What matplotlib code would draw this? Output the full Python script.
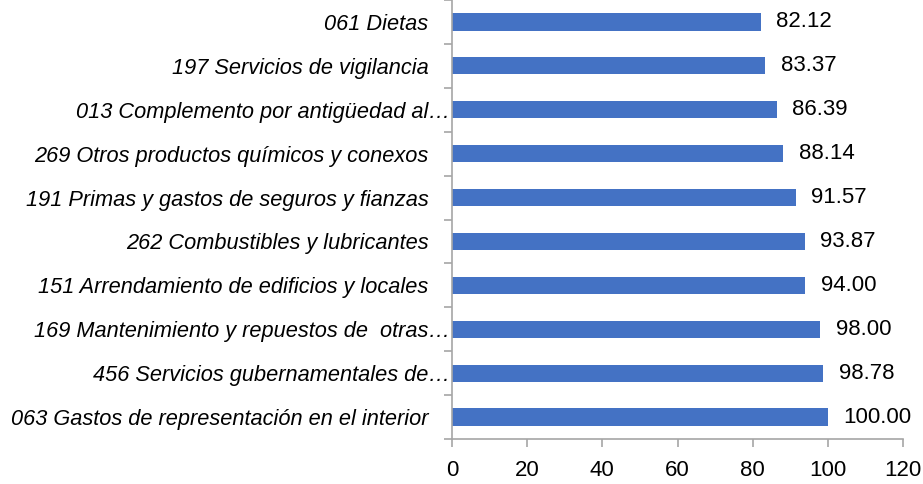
import matplotlib
matplotlib.use("Agg")
import matplotlib.pyplot as plt
from matplotlib.transforms import ScaledTranslation

# categories listed bottom -> top
categories = [
    "063 Gastos de representación en el interior",
    "456 Servicios gubernamentales de…",
    "169 Mantenimiento y repuestos de  otras…",
    "151 Arrendamiento de edificios y locales",
    "262 Combustibles y lubricantes",
    "191 Primas y gastos de seguros y fianzas",
    "269 Otros productos químicos y conexos",
    "013 Complemento por antigüedad al…",
    "197 Servicios de vigilancia",
    "061 Dietas",
]
values = [100.00, 98.78, 98.00, 94.00, 93.87, 91.57, 88.14, 86.39, 83.37, 82.12]
xticks = [0, 20, 40, 60, 80, 100, 120]

FONT = ["Liberation Sans Narrow", "Liberation Sans", "DejaVu Sans"]
BAR = "#4472C4"
AXC = "#A6A6A6"

fig = plt.figure(figsize=(9.23, 4.84), dpi=100)
ax = fig.add_axes([452 / 923, 1 - 439 / 484, 451 / 923, 439 / 484])

pos = list(range(len(categories)))
ax.barh(pos, values, height=0.39, color=BAR)
for p, v in zip(pos, values):
    ax.annotate(f"{v:.2f}", (v, p), xytext=(11, 0), textcoords="offset points",
                va="center", ha="left", fontsize=16, family=FONT)

ax.set_xlim(0, 120)
ax.set_ylim(-0.5, len(categories) - 0.5)
ax.set_xticks(xticks)
ax.set_xticklabels([str(t) for t in xticks], fontsize=16, family=FONT)
ax.set_yticks(pos)
ax.set_yticklabels(categories, fontsize=15.7, family=FONT, style="italic")
ax.set_yticks([p - 0.5 for p in pos] + [len(pos) - 0.5], minor=True)

ax.tick_params(axis="y", which="major", length=0, pad=17)
ax.tick_params(axis="y", which="minor", length=6, color=AXC, width=1.2, direction="out")
ax.tick_params(axis="x", length=6, color=AXC, width=1.2, direction="out", pad=9)

for s in ["top", "right"]:
    ax.spines[s].set_visible(False)
for s in ["left", "bottom"]:
    ax.spines[s].set_color(AXC)
    ax.spines[s].set_linewidth(1.2)

# truncated labels overflow slightly toward the axis, as in the original
for lbl in ax.get_yticklabels():
    if lbl.get_text().endswith("…"):
        lbl.set_transform(lbl.get_transform() + ScaledTranslation(16 / 72, 0, fig.dpi_scale_trans))

fig.savefig("out.png", dpi=100)
